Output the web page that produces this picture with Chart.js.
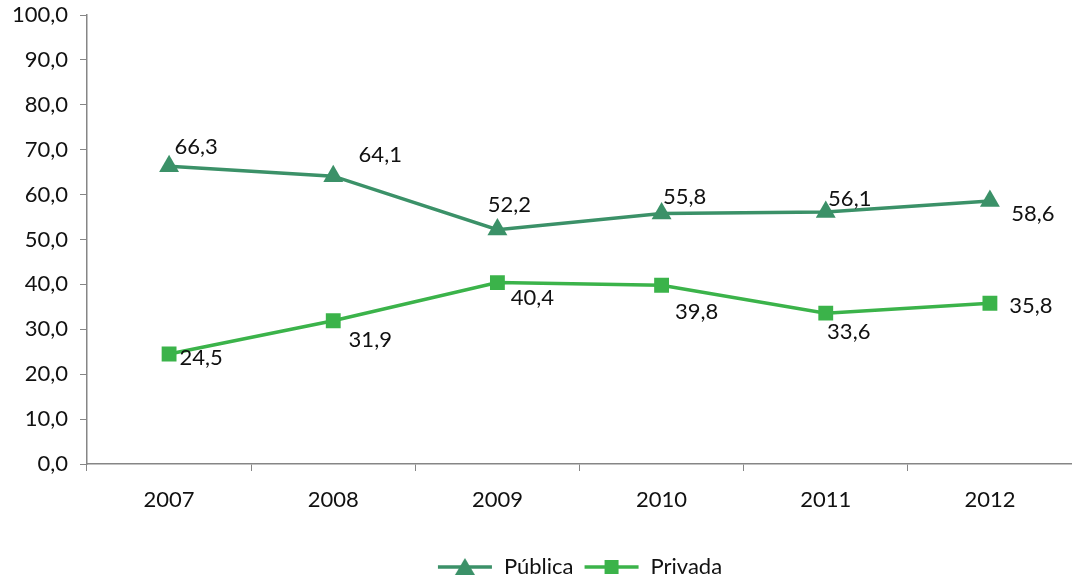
<!DOCTYPE html>
<html>
<head>
<meta charset="utf-8">
<script src="https://cdn.jsdelivr.net/npm/chart.js@4/dist/chart.umd.min.js"></script>
<style>
  html, body { margin: 0; padding: 0; background: #fff; }
  #wrap { width: 1072px; height: 580px; }
</style>
</head>
<body>
<div id="wrap"><canvas id="lineChart" width="1072" height="580"></canvas></div>
<script>
const years = ["2007", "2008", "2009", "2010", "2011", "2012"];
const publica = [66.3, 64.1, 52.2, 55.8, 56.1, 58.6];
const privada = [24.5, 31.9, 40.4, 39.8, 33.6, 35.8];

const corPublica = "#3b9168";
const corPrivada = "#3bb34a";
const fonte = "Lato, 'Open Sans', sans-serif";

// onde cada rótulo fica em relação ao ponto (dx, dy)
const offsetsPublica = [[27, -19], [47, -21], [12, -25], [23, -17], [24, -13], [43, 13]];
const offsetsPrivada = [[32, 4], [37, 19], [35, 15], [35, 27], [23, 19], [41, 3]];

function fmt(v) {
  return v.toFixed(1).replace(".", ",");
}

// ícone da legenda: linha + marcador, como no Excel
function legendIcon(color, shape) {
  const c = document.createElement("canvas");
  c.width = 56;
  c.height = 20;
  const ctx = c.getContext("2d");
  ctx.strokeStyle = color;
  ctx.lineWidth = 3.5;
  ctx.beginPath();
  ctx.moveTo(1, 10);
  ctx.lineTo(55, 10);
  ctx.stroke();
  ctx.fillStyle = color;
  ctx.beginPath();
  if (shape === "triangle") {
    ctx.moveTo(28, 1);
    ctx.lineTo(38, 18);
    ctx.lineTo(18, 18);
    ctx.closePath();
  } else {
    ctx.rect(21, 3, 14, 14);
  }
  ctx.fill();
  return c;
}

const dataLabels = {
  id: "dataLabels",
  afterDatasetsDraw(chart) {
    const ctx = chart.ctx;
    ctx.save();
    ctx.font = "22px " + fonte;
    ctx.fillStyle = "#111";
    ctx.textAlign = "center";
    ctx.textBaseline = "middle";
    chart.data.datasets.forEach((ds, i) => {
      const meta = chart.getDatasetMeta(i);
      const offs = i === 0 ? offsetsPublica : offsetsPrivada;
      meta.data.forEach((pt, j) => {
        ctx.fillText(fmt(ds.data[j]), pt.x + offs[j][0], pt.y + offs[j][1]);
      });
    });
    ctx.restore();
  },
};

const ctxLine = document.getElementById("lineChart").getContext("2d");
new Chart(ctxLine, {
  type: "line",
  data: {
    labels: years,
    datasets: [
      {
        label: "Pública",
        data: publica,
        borderColor: corPublica,
        backgroundColor: corPublica,
        borderWidth: 3.5,
        pointStyle: "triangle",
        pointRadius: 11.5,
        pointHoverRadius: 11.5,
        pointBorderWidth: 0,
        tension: 0,
      },
      {
        label: "Privada",
        data: privada,
        borderColor: corPrivada,
        backgroundColor: corPrivada,
        borderWidth: 3.5,
        pointStyle: "rect",
        pointRadius: 10.5,
        pointHoverRadius: 10.5,
        pointBorderWidth: 0,
        tension: 0,
      },
    ],
  },
  options: {
    responsive: false,
    animation: false,
    layout: { autoPadding: false, padding: { left: 0, right: 0, top: 15, bottom: -8 } },
    plugins: {
      tooltip: { enabled: false },
      legend: {
        position: "bottom",
        fullSize: false,
        labels: {
          font: { family: fonte, size: 22 },
          color: "#111",
          usePointStyle: true,
          pointStyleWidth: 56,
          padding: 10,
          generateLabels(chart) {
            return chart.data.datasets.map((ds, i) => ({
              text: ds.label,
              pointStyle: legendIcon(ds.borderColor, i === 0 ? "triangle" : "rect"),
              fillStyle: ds.borderColor,
              strokeStyle: ds.borderColor,
              lineWidth: 0,
              hidden: false,
              datasetIndex: i,
              fontColor: "#111",
            }));
          },
        },
      },
    },
    scales: {
      x: {
        offset: true,
        grid: {
          offset: true,
          drawOnChartArea: false,
          drawTicks: true,
          tickLength: 7,
          color: "#868686",
        },
        border: { color: "#868686", width: 1.5 },
        ticks: {
          font: { family: fonte, size: 22 },
          color: "#111",
          padding: 16,
        },
        afterFit(scale) {
          scale.height = 82;
          scale.paddingLeft = 0;
          scale.paddingRight = 0;
        },
      },
      y: {
        min: 0,
        max: 100,
        grid: {
          drawOnChartArea: false,
          drawTicks: true,
          tickLength: 7,
          color: "#868686",
        },
        border: { color: "#868686", width: 1.5 },
        ticks: {
          stepSize: 10,
          font: { family: fonte, size: 22 },
          color: "#111",
          padding: 12,
          callback: (v) => fmt(v),
        },
        afterFit(scale) {
          scale.width = 87;
          scale.paddingTop = 0;
          scale.paddingBottom = 0;
        },
      },
    },
  },
  plugins: [dataLabels],
});
</script>
</body>
</html>
